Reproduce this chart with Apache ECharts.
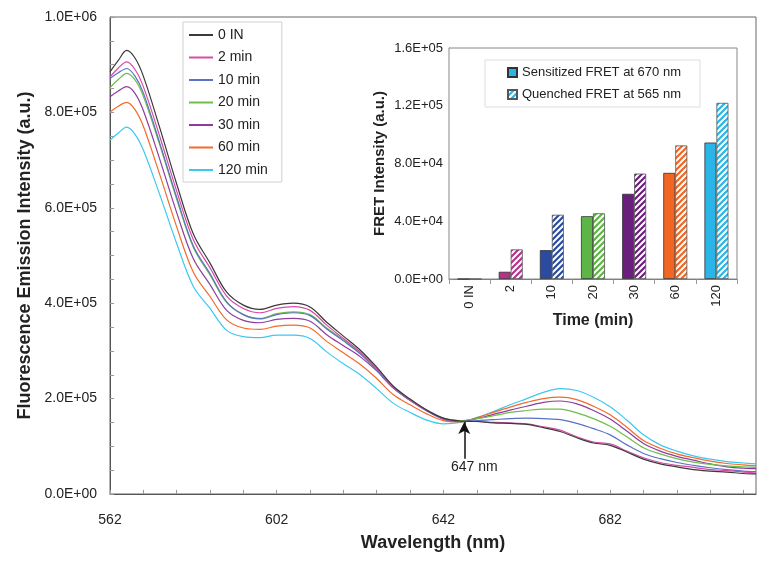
<!DOCTYPE html>
<html><head><meta charset="utf-8">
<script src="https://cdn.jsdelivr.net/npm/echarts@6/dist/echarts.min.js"></script>
<style>html,body{margin:0;padding:0;background:#fff}#c{width:765px;height:563px}</style>
</head><body><div id="c"></div>
<script>
// ---- main spectra (intensity in thousands, a.u.) ----
const wavelengths = [562,564,566,568,570,574,578,582,586,590,594,598,602,606,610,614,618,622,626,630,634,638,642,646,650,654,658,662,666,670,674,678,682,686,690,694,698,702,706,710,714,717];
const int0IN = [885,909,930,914,876,766,650,545,484,423,396,387,396,400,392,360,331,302,266,226,199,176,159,153,152,149,148,146,139,131,118,107,102,88,73,63,57,51,48,46,43,42];
const int2   = [874,893,906,890,854,748,635,533,474,415,389,380,389,393,385,354,326,298,263,224,197,175,158,152,152,150,149,147,141,134,120,109,105,90,76,66,60,56,51,49,46,44];
const int10  = [871,883,892,876,841,734,622,520,462,403,376,367,376,380,374,346,321,294,260,222,196,174,157,152,154,156,158,159,158,156,148,137,124,103,85,74,66,60,55,51,48,47];
const int20  = [852,869,882,868,834,730,618,517,459,401,376,368,378,382,376,348,323,296,262,223,197,175,159,154,158,164,171,175,178,178,170,158,142,120,97,84,74,67,62,59,57,56];
const int30  = [833,845,854,840,804,700,590,493,439,385,364,359,366,368,362,334,311,288,258,222,197,175,157,153,158,167,176,184,192,195,189,175,157,132,106,90,79,71,63,57,54,53];
const int60  = [801,813,821,806,771,668,560,465,414,365,348,345,352,354,348,320,296,272,242,208,187,168,154,151,160,171,182,192,200,203,198,184,166,140,112,96,84,76,69,64,61,59];
const int120 = [742,757,769,754,721,626,525,435,389,343,330,328,333,333,326,298,273,250,221,190,171,155,147,150,160,173,187,200,213,221,217,203,183,155,124,103,90,80,73,68,65,63];
const seriesNames = ['0 IN','2 min','10 min','20 min','30 min','60 min','120 min'];
const xTickLabels = [562,602,642,682];
const xMinorTicks = [562,570,578,586,594,602,610,618,626,634,642,650,658,666,674,682,690,698,706,714];
const isosbestic = [647, 74, 151]; // wavelength, arrow start, arrow tip (thousands)

// ---- inset bars ----
const timeCats = ['0 IN','2','10','20','30','60','120'];
const sensitized = [0,5000,20000,43500,59000,73500,94500];
const quenched   = [0,20500,44500,45500,73000,92500,122000];

const lineColors = ['#3a3a3a','#D94AA8','#5872C4','#6DBE4B','#8E3C9E','#F26B2A','#3CC8F0'];
const barColors  = ['#999999','#B5338A','#2B4BA0','#5DB545','#6B1F7C','#F26522','#29B5E8'];
const FONT = 'Liberation Sans, Arial, sans-serif';

function sci(v){
  if (v === 0) return '0.0E+00';
  const e = Math.floor(Math.log10(Math.abs(v)) + 1e-9);
  const m = v / Math.pow(10, e);
  return m.toFixed(1) + 'E' + (e >= 0 ? '+' : '-') + String(Math.abs(e)).padStart(2, '0');
}
function hatch(color){
  const c = document.createElement('canvas'); c.width = 6; c.height = 6;
  const g = c.getContext('2d');
  g.fillStyle = '#fff'; g.fillRect(0,0,6,6);
  g.strokeStyle = color; g.lineWidth = 2.2; g.beginPath();
  g.moveTo(-1,7); g.lineTo(7,-1);
  g.moveTo(-4,4); g.lineTo(4,-4);
  g.moveTo(2,10); g.lineTo(10,2);
  g.stroke();
  return {image: c, repeat: 'repeat'};
}

const spectra = [int0IN,int2,int10,int20,int30,int60,int120];
const lineSeries = spectra.map((arr, k) => ({
  name: seriesNames[k], type: 'line', xAxisIndex: 0, yAxisIndex: 0,
  data: wavelengths.map((w, i) => [w, arr[i]]),
  showSymbol: false, smooth: 0.35,
  lineStyle: {color: lineColors[k], width: 1.2}, itemStyle: {color: lineColors[k]},
  z: 2 + (6 - k)
}));
lineSeries.push({
  name: 'arrow', type: 'line', xAxisIndex: 0, yAxisIndex: 0, data: [],
  markLine: {
    silent: true, symbol: ['none','arrow'], symbolSize: [9, 12],
    lineStyle: {color: '#111', width: 1.5, type: 'solid'},
    label: {show: true, position: 'start', formatter: '647 nm', color: '#222', fontSize: 14, fontFamily: FONT,
            distance: 1, padding: [0, 0, 0, 20]},
    data: [[{coord: [isosbestic[0], isosbestic[1]]}, {coord: [isosbestic[0], isosbestic[2]]}]]
  }, z: 20
});

const chart = echarts.init(document.getElementById('c'));
chart.setOption({
  animation: false,
  textStyle: {fontFamily: FONT},
  grid: [
    {left: 110, top: 17, right: 9, bottom: 69, show: true, borderColor: '#666', borderWidth: 1, backgroundColor: '#fff'},
    {left: 449, top: 48, right: 28, bottom: 284, show: true, borderColor: '#888', borderWidth: 1, backgroundColor: '#fff', z: 10}
  ],
  legend: [
    {data: seriesNames, orient: 'vertical', left: 183, top: 22, icon: 'rect', itemWidth: 24, itemHeight: 2, itemGap: 8.5,
     textStyle: {fontSize: 14, color: '#222', fontFamily: FONT, lineHeight: 14}, borderColor: '#d0d0d0', borderWidth: 1,
     padding: [6, 14, 5, 6], backgroundColor: '#fff', z: 30},
    {data: ['Sensitized FRET at 670 nm','Quenched FRET at 565 nm'], orient: 'vertical', left: 485, top: 60, icon: 'rect',
     itemWidth: 9, itemHeight: 9, itemGap: 9, textStyle: {fontSize: 13, color: '#222', fontFamily: FONT, lineHeight: 13},
     borderColor: '#ddd', borderWidth: 1, padding: [6, 19, 6, 22], backgroundColor: '#fff', z: 30}
  ],
  xAxis: [
    {type: 'value', gridIndex: 0, min: 562, max: 717,
     axisLine: {show: true, lineStyle: {color: '#555'}},
     axisTick: {show: true, inside: true, length: 4, customValues: xMinorTicks, lineStyle: {color: '#999'}},
     axisLabel: {customValues: xTickLabels, fontSize: 14, color: '#222', margin: 19},
     splitLine: {show: false},
     name: 'Wavelength (nm)', nameLocation: 'middle', nameGap: 40,
     nameTextStyle: {fontSize: 18, fontWeight: 'bold', color: '#222'}},
    {type: 'category', gridIndex: 1, data: timeCats,
     axisLine: {show: true, lineStyle: {color: '#777'}},
     axisTick: {show: true, length: 5, lineStyle: {color: '#999'}},
     axisLabel: {rotate: 90, fontSize: 13, color: '#222', margin: 6},
     name: 'Time (min)', nameLocation: 'middle', nameGap: 32,
     nameTextStyle: {fontSize: 16, fontWeight: 'bold', color: '#222'}}
  ],
  yAxis: [
    {type: 'value', gridIndex: 0, min: 0, max: 1000, interval: 200,
     axisLine: {show: true, lineStyle: {color: '#555'}},
     axisTick: {show: true, inside: true, length: 4, lineStyle: {color: '#999'}},
     minorTick: {show: true, splitNumber: 4, length: 4, lineStyle: {color: '#999'}},
     axisLabel: {formatter: v => sci(v * 1000), fontSize: 14, color: '#222', margin: 13},
     splitLine: {show: false},
     name: 'Fluorescence Emission Intensity (a.u.)', nameLocation: 'middle', nameGap: 70,
     nameTextStyle: {fontSize: 18, fontWeight: 'bold', color: '#222'}},
    {type: 'value', gridIndex: 1, min: 0, max: 160000, interval: 40000,
     axisLine: {show: true, lineStyle: {color: '#777'}},
     axisTick: {show: true, inside: true, length: 4, lineStyle: {color: '#999'}},
     minorTick: {show: true, splitNumber: 4, length: 3, lineStyle: {color: '#aaa'}},
     axisLabel: {formatter: v => sci(v), fontSize: 13, color: '#222', margin: 6},
     splitLine: {show: false},
     name: 'FRET Intensity (a.u.)', nameLocation: 'middle', nameGap: 62,
     nameTextStyle: {fontSize: 15, fontWeight: 'bold', color: '#222'}}
  ],
  series: lineSeries.concat([
    {name: 'Sensitized FRET at 670 nm', type: 'bar', xAxisIndex: 1, yAxisIndex: 1, barWidth: 12, barGap: '0%', z: 12,
     itemStyle: {color: '#29B5E8', borderColor: '#333', borderWidth: 0.8},
     data: sensitized.map((v, i) => ({value: v, itemStyle: {color: barColors[i]}}))},
    {name: 'Quenched FRET at 565 nm', type: 'bar', xAxisIndex: 1, yAxisIndex: 1, barWidth: 12, barGap: '0%', z: 12,
     itemStyle: {color: hatch('#29B5E8'), borderColor: '#555', borderWidth: 0.8},
     data: quenched.map((v, i) => ({value: v, itemStyle: {color: hatch(barColors[i])}}))}
  ])
});
</script></body></html>
